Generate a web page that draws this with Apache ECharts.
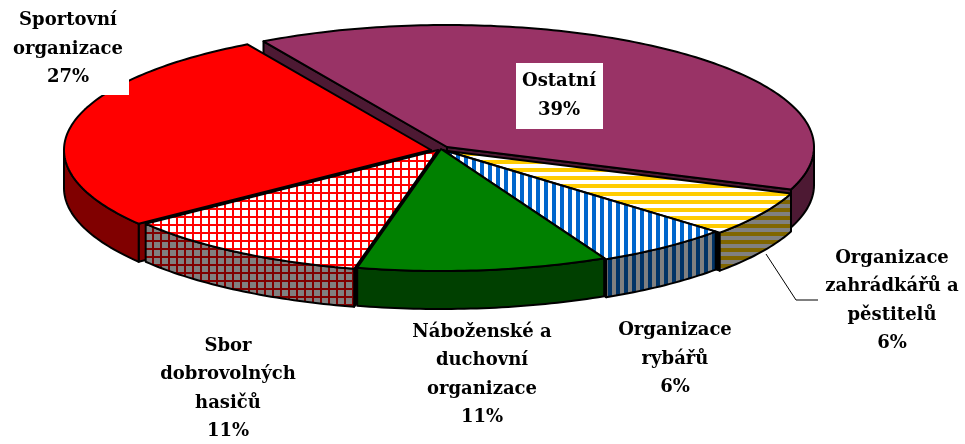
<!DOCTYPE html>
<html>
<head>
<meta charset="utf-8">
<title>Organizace</title>
<script src="https://cdn.jsdelivr.net/npm/echarts@6/dist/echarts.min.js"></script>
<style>
  html, body { margin: 0; padding: 0; background: #fff; }
  #chart { width: 965px; height: 444px; }
</style>
</head>
<body>
<div id="chart"></div>
<script>
// data, in drawing order round the pie (clockwise from the back)
var categories = ['Ostatní', 'Organizace\nzahrádkářů a\npěstitelů', 'Organizace\nrybářů',
  'Náboženské a\nduchovní\norganizace', 'Sbor\ndobrovolných\nhasičů', 'Sportovní\norganizace'];
var values = [39, 6, 6, 11, 11, 27];

// pie geometry
var START_ANGLE = 120, RX = 367, RY = 122, DEPTH = 38;

// centre of each exploded slice
var sliceCentres = [[447, 147], [447, 151], [443, 150], [441, 149], [438, 150], [431, 150]];
// slices are painted back to front
var paintOrder = [0, 5, 1, 2, 4, 3];

function pattern(draw) {
  var c = document.createElement('canvas');
  c.width = c.height = 8;
  draw(c.getContext('2d'));
  return { image: c, repeat: 'repeat' };
}
function hStripes(bg, fg) {
  return pattern(function (g) {
    g.fillStyle = bg; g.fillRect(0, 0, 8, 8);
    g.fillStyle = fg; g.fillRect(0, 0, 8, 4);
  });
}
function vStripes(bg, fg) {
  return pattern(function (g) {
    g.fillStyle = bg; g.fillRect(0, 0, 8, 8);
    g.fillStyle = fg; g.fillRect(0, 0, 4, 8);
  });
}
function grid(bg, fg) {
  return pattern(function (g) {
    g.fillStyle = bg; g.fillRect(0, 0, 8, 8);
    g.fillStyle = fg; g.fillRect(0, 0, 8, 2); g.fillRect(0, 0, 2, 8);
  });
}

var topFills = ['#993366', hStripes('#ffffff', '#ffcc00'), vStripes('#ffffff', '#0066cc'),
  '#008000', grid('#ffffff', '#ff0000'), '#ff0000'];
var wallFills = ['#4d1933', hStripes('#808080', '#806600'), vStripes('#808080', '#003366'),
  '#004000', grid('#808080', '#800000'), '#800000'];
var cutFills = ['#4d1933', '#000000', '#003366', '#004000', '#000000', '#800000'];

var total = values.reduce(function (a, b) { return a + b; }, 0);

function rim(c, deg, drop) {
  var r = deg * Math.PI / 180;
  return [c[0] + RX * Math.cos(r), c[1] - RY * Math.sin(r) + (drop || 0)];
}
function arc(c, from, to, drop) {
  var pts = [], n = Math.max(2, Math.ceil(Math.abs(from - to)));
  for (var i = 0; i <= n; i++) pts.push(rim(c, from + (to - from) * i / n, drop));
  return pts;
}
function poly(points, fill) {
  return {
    type: 'polygon',
    shape: { points: points },
    style: { fill: fill, stroke: '#000', lineWidth: 2, lineJoin: 'round' }
  };
}

// sweep of every slice
var sweeps = [], cursor = START_ANGLE;
values.forEach(function (v) {
  var a = cursor, b = cursor - v / total * 360;
  sweeps.push([a, b]);
  cursor = b;
});

function renderSlice(params, api) {
  var i = api.value(0);
  var c = sliceCentres[i], a = sweeps[i][0], b = sweeps[i][1];
  var kids = [];
  // the flat cut faces that look towards the viewer
  [[a, Math.cos(a * Math.PI / 180) < 0], [b, Math.cos(b * Math.PI / 180) > 0]].forEach(function (f) {
    if (!f[1]) return;
    var p = rim(c, f[0]);
    kids.push(poly([c, p, [p[0], p[1] + DEPTH], [c[0], c[1] + DEPTH]], cutFills[i]));
  });
  // outer wall, only the front half of the ellipse shows
  var from = Math.min(a, 0), to = Math.max(b, -180);
  if (from > to) {
    kids.push(poly(arc(c, from, to, 0).concat(arc(c, to, from, DEPTH)), wallFills[i]));
  }
  kids.push(poly([c].concat(arc(c, a, b, 0)), topFills[i]));
  return { type: 'group', children: kids };
}

// label text boxes: centre x, centre y, optional white backing
var labelBoxes = [
  { x: 559, y: 96, back: [516, 63, 87, 66] },
  { x: 892, y: 301 },
  { x: 675, y: 359 },
  { x: 482, y: 375 },
  { x: 228, y: 389 },
  { x: 68, y: 49, back: [6, 0, 123, 95] }
];

var graphics = [{
  type: 'polyline',
  z: 100,
  shape: { points: [[766, 254], [796, 300], [818, 300]] },
  style: { fill: null, stroke: '#000', lineWidth: 1 }
}];
categories.forEach(function (name, i) {
  var box = labelBoxes[i];
  if (box.back) {
    graphics.push({
      type: 'rect', z: 100,
      shape: { x: box.back[0], y: box.back[1], width: box.back[2], height: box.back[3] },
      style: { fill: '#fff' }
    });
  }
  graphics.push({
    type: 'text', z: 101, x: box.x, y: box.y,
    style: {
      text: name + '\n' + values[i] + '%',
      align: 'center', verticalAlign: 'middle',
      font: 'bold 18px "DejaVu Serif"', lineHeight: 28.5, fill: '#000'
    }
  });
});

var chart = echarts.init(document.getElementById('chart'), null, { renderer: 'canvas' });
chart.setOption({
  animation: false,
  backgroundColor: '#fff',
  graphic: graphics,
  series: [{
    type: 'custom',
    coordinateSystem: 'none',
    renderItem: renderSlice,
    data: paintOrder.map(function (i) { return [i, values[i]]; }),
    silent: true
  }]
});
</script>
</body>
</html>
